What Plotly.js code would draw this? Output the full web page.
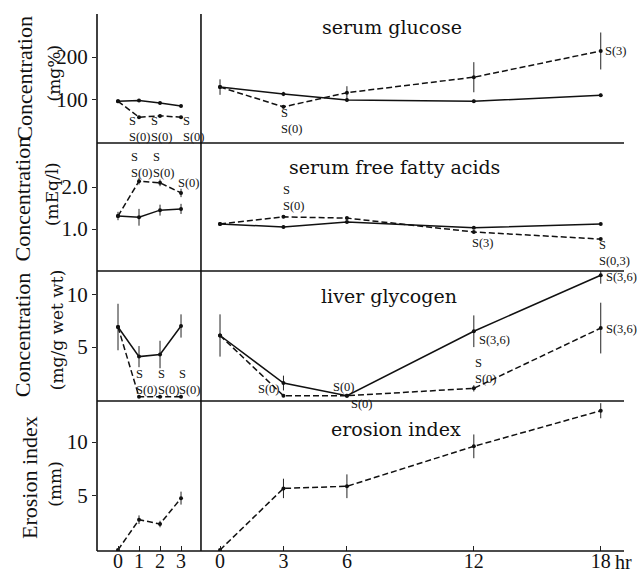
<!DOCTYPE html>
<html><head><meta charset="utf-8">
<script src="https://cdn.plot.ly/plotly-3.0.1.min.js"></script>
<style>html,body{margin:0;padding:0;background:#fff}#chart{width:639px;height:575px}</style>
</head><body><div id="chart"></div>
<script>
// ---------- data ----------
const daysX = [0, 1, 2, 3];
const hoursX = [0, 3, 6, 12, 18];
const dayTickLabels = ['0', '1', '2', '3'];
const hourTickLabels = ['0', '3', '6', '12', '18'];
const panelTitles = ['serum glucose', 'serum free fatty acids', 'liver glycogen', 'erosion index'];

const glucoseDaysSolid = [97, 99, 93, 86];
const glucoseDaysSolidErr = [3, 3, 3, 3];
const glucoseDaysDashed = [97, 60, 63, 60];
const glucoseDaysDashedErr = [0, 3, 3, 3];
const glucoseHoursSolid = [130, 114, 100, 97, 111];
const glucoseHoursSolidErr = [18, 5, 4, 4, 4];
const glucoseHoursDashed = [130, 84, 117, 153, 214];
const glucoseHoursDashedErr = [0, 4, 15, 35, 43];

const ffaDaysSolid = [1.31, 1.28, 1.45, 1.48];
const ffaDaysSolidErr = [0.1, 0.2, 0.13, 0.12];
const ffaDaysDashed = [1.31, 2.14, 2.10, 1.86];
const ffaDaysDashedErr = [0, 0.08, 0.08, 0.1];
const ffaHoursSolid = [1.12, 1.05, 1.17, 1.03, 1.12];
const ffaHoursSolidErr = [0.03, 0.03, 0.03, 0.03, 0.03];
const ffaHoursDashed = [1.12, 1.29, 1.26, 0.93, 0.76];
const ffaHoursDashedErr = [0, 0.03, 0.03, 0.03, 0.03];

const glycogenDaysSolid = [6.9, 4.1, 4.3, 7.0];
const glycogenDaysSolidErr = [2.2, 1.0, 1.3, 1.1];
const glycogenDaysDashed = [6.9, 0.3, 0.3, 0.3];
const glycogenDaysDashedErr = [0, 0.1, 0.1, 0.1];
const glycogenHoursSolid = [6.1, 1.6, 0.4, 6.5, 11.8];
const glycogenHoursSolidErr = [2.0, 0.7, 0, 1.5, 0.8];
const glycogenHoursDashed = [6.1, 0.4, 0.4, 1.1, 6.8];
const glycogenHoursDashedErr = [0, 0, 0, 0.3, 2.4];

const erosionDaysDashed = [0, 2.8, 2.4, 4.8];
const erosionDaysDashedErr = [0, 0.4, 0.3, 0.6];
const erosionHoursDashed = [0, 5.7, 5.9, 9.6, 12.9];
const erosionHoursDashedErr = [0, 0.9, 1.1, 1.1, 0.7];

const yTitles = ['Concentration', 'Concentration', 'Concentration', 'Erosion index'];
const yUnits = ['(mg%)', '(mEq/l)', '(mg/g wet wt)', '(mm)'];

// ---------- styling ----------
const SERIF = 'Liberation Serif';
const DSERIF = 'DejaVu Serif';

function series(n, x, y, err, dashed) {
  return {
    x: x, y: y, xaxis: 'x' + n, yaxis: 'y' + n, type: 'scatter', mode: 'lines+markers',
    line: {color: '#111', width: 1.5, dash: dashed ? '6px,3px' : 'solid'},
    marker: {color: '#111', size: 4, symbol: 'circle'},
    error_y: {type: 'data', array: err, visible: true, width: 0, thickness: 1, color: '#222'},
    showlegend: false, hoverinfo: 'skip'
  };
}

const data = [
  series(1, daysX, glucoseDaysSolid, glucoseDaysSolidErr, false),
  series(1, daysX, glucoseDaysDashed, glucoseDaysDashedErr, true),
  series(2, hoursX, glucoseHoursSolid, glucoseHoursSolidErr, false),
  series(2, hoursX, glucoseHoursDashed, glucoseHoursDashedErr, true),
  series(3, daysX, ffaDaysSolid, ffaDaysSolidErr, false),
  series(3, daysX, ffaDaysDashed, ffaDaysDashedErr, true),
  series(4, hoursX, ffaHoursSolid, ffaHoursSolidErr, false),
  series(4, hoursX, ffaHoursDashed, ffaHoursDashedErr, true),
  series(5, daysX, glycogenDaysSolid, glycogenDaysSolidErr, false),
  series(5, daysX, glycogenDaysDashed, glycogenDaysDashedErr, true),
  series(6, hoursX, glycogenHoursSolid, glycogenHoursSolidErr, false),
  series(6, hoursX, glycogenHoursDashed, glycogenHoursDashedErr, true),
  series(7, daysX, erosionDaysDashed, erosionDaysDashedErr, true),
  series(8, hoursX, erosionHoursDashed, erosionHoursDashedErr, true)
];

const colSplit = 0.1973;
const rowDomains = [[0.7598, 1], [0.5214, 0.7598], [0.2793, 0.5214], [0, 0.2793]];
const yRanges = [[0, 300], [0, 3.05], [-0.1, 12.2], [-0.1, 13.8]];
const yTicks = [[100, 200], [1, 2], [5, 10], [5, 10]];
const yTickText = [['100', '200'], ['1.0', '2.0'], ['5', '10'], ['5', '10']];

const layout = {
  width: 639, height: 575,
  margin: {l: 97, r: 15, t: 14, b: 24},
  paper_bgcolor: '#fff', plot_bgcolor: 'rgba(0,0,0,0)',
  font: {family: SERIF, color: '#111'},
  showlegend: false,
  shapes: [], annotations: []
};

for (let r = 0; r < 4; r++) {
  for (let c = 0; c < 2; c++) {
    const n = r * 2 + c + 1;
    const bottom = r === 3;
    layout['xaxis' + n] = {
      domain: c === 0 ? [0, colSplit] : [colSplit, 1],
      anchor: 'y' + n,
      range: c === 0 ? [-1, 3.95] : [-0.9, 19.1],
      showgrid: false, zeroline: false, showline: false,
      tickmode: 'array',
      tickvals: bottom ? (c === 0 ? daysX : hoursX) : [],
      ticktext: bottom ? (c === 0 ? dayTickLabels : hourTickLabels) : [],
      ticks: bottom ? 'inside' : '', ticklen: 5, tickcolor: '#222',
      ticklabelstandoff: -4,
      showticklabels: bottom,
      tickfont: {family: SERIF, size: 20, color: '#111'}
    };
    layout['yaxis' + n] = {
      domain: rowDomains[r],
      anchor: 'x' + n,
      range: yRanges[r],
      showgrid: false, zeroline: false, showline: false,
      tickmode: 'array',
      tickvals: c === 0 ? yTicks[r] : [],
      ticktext: c === 0 ? yTickText[r] : [],
      ticks: c === 0 ? 'outside' : '', ticklen: 4, tickcolor: '#222',
      showticklabels: c === 0,
      tickfont: {family: SERIF, size: 21, color: '#111'}
    };
  }
}

// frame lines
const lineStyle = {color: '#111', width: 1.6};
layout.shapes.push({type: 'line', xref: 'paper', yref: 'paper', x0: 0, x1: 0, y0: 0, y1: 1, line: lineStyle});
layout.shapes.push({type: 'line', xref: 'paper', yref: 'paper', x0: colSplit, x1: colSplit, y0: 0, y1: 1, line: lineStyle});
[0, 0.2793, 0.5214, 0.7598].forEach(y => {
  layout.shapes.push({type: 'line', xref: 'paper', yref: 'paper', x0: 0, x1: 1, y0: y, y1: y, line: lineStyle});
});

// panel titles (centered in right column)
const titleY = [0.975, 0.716, 0.474, 0.227];
const titleX = [0.56, 0.565, 0.555, 0.568];
panelTitles.forEach((t, i) => {
  layout.annotations.push({text: t, xref: 'paper', yref: 'paper', x: titleX[i], y: titleY[i],
    xanchor: 'center', yanchor: 'middle', showarrow: false,
    font: {family: DSERIF, size: 19, color: '#111'}});
});

// y-axis titles
const titleCenters = [0.88, 0.655, 0.402, 0.136];
const titlePx = [-0.138, -0.142, -0.142, -0.127];
const unitPx = [-0.081, -0.085, -0.077, -0.079];
yTitles.forEach((t, i) => {
  layout.annotations.push({text: t, xref: 'paper', yref: 'paper', x: titlePx[i], y: titleCenters[i],
    xanchor: 'center', yanchor: 'middle', textangle: -90, showarrow: false,
    font: {family: SERIF, size: 22, color: '#111'}});
  layout.annotations.push({text: yUnits[i], xref: 'paper', yref: 'paper', x: unitPx[i], y: titleCenters[i] + (i === 3 ? -0.01 : 0.01),
    xanchor: 'center', yanchor: 'middle', textangle: -90, showarrow: false,
    font: {family: DSERIF, size: 17, color: '#111'}});
});

// significance labels
function note(n, x, y, text, xanchor, yshift) {
  layout.annotations.push({text: text, xref: 'x' + n, yref: 'y' + n, x: x, y: y,
    xanchor: xanchor || 'left', yanchor: 'middle', align: 'left', showarrow: false,
    yshift: yshift || 0, borderpad: 0,
    font: {family: SERIF, size: 12.5, color: '#111'}});
}
note(1, 0.48, 33, 'S<br>S(0)');
note(1, 1.52, 33, 'S<br>S(0)');
note(1, 3.05, 33, 'S<br>S(0)');
note(2, 2.84, 51, 'S<br>S(0)');
note(2, 18.15, 214, 'S(3)');
note(3, 0.57, 2.52, 'S<br>S(0)');
note(3, 1.62, 2.52, 'S<br>S(0)');
note(3, 2.81, 2.1, 'S(0)');
note(4, 2.94, 1.73, 'S<br>S(0)');
note(4, 11.85, 0.67, 'S(3)');
note(4, 17.87, 0.43, 'S<br>S(0,3)');
note(5, 0.81, 1.7, 'S<br>S(0)');
note(5, 1.86, 1.7, 'S<br>S(0)');
note(5, 2.86, 1.7, 'S<br>S(0)');
note(6, 2.9, 1.04, 'S(0)', 'right');
note(6, 5.88, 1.2, 'S(0)', 'center');
note(6, 6.7, 0, 'S(0)', 'center', -4);
note(6, 12.18, 5.66, 'S(3,6)');
note(6, 12.0, 2.7, 'S<br>S(0)');
note(6, 18.2, 11.6, 'S(3,6)');
note(6, 18.2, 6.7, 'S(3,6)');

// unit label on time axis
layout.annotations.push({text: 'hr', xref: 'paper', yref: 'paper', x: 0.979, y: -0.02,
  xanchor: 'left', yanchor: 'middle', showarrow: false,
  font: {family: SERIF, size: 20, color: '#111'}});

Plotly.newPlot('chart', data, layout, {staticPlot: true, displayModeBar: false});
</script>
</body></html>
